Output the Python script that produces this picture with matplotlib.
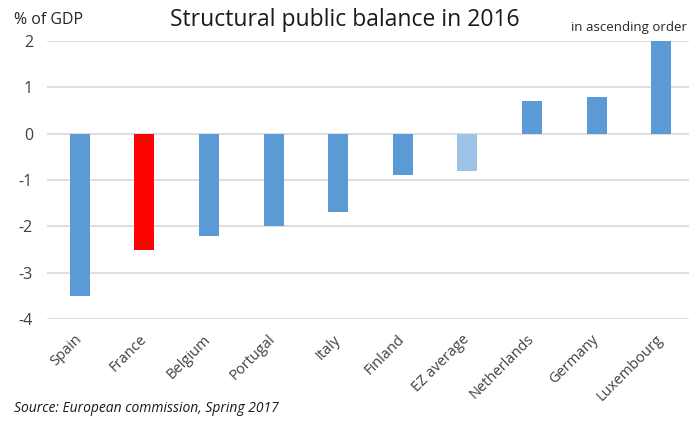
import numpy as np
import matplotlib
matplotlib.use('Agg')
import matplotlib.pyplot as plt

plt.rcParams['font.family'] = ['Open Sans', 'DejaVu Sans']

# data
countries = ['Spain', 'France', 'Belgium', 'Portugal', 'Italy', 'Finland',
             'EZ average', 'Netherlands', 'Germany', 'Luxembourg']
balance = [-3.5, -2.5, -2.2, -2.0, -1.7, -0.9, -0.8, 0.7, 0.8, 2.0]
colors = ['#5B9BD5', '#FF0000', '#5B9BD5', '#5B9BD5', '#5B9BD5', '#5B9BD5',
          '#9DC3E6', '#5B9BD5', '#5B9BD5', '#5B9BD5']
yticks = [-4, -3, -2, -1, 0, 1, 2]

fig = plt.figure(figsize=(6.89, 4.22), dpi=100)
ax = fig.add_axes([0.068, 0.244, 0.932, 0.659])

x = np.arange(len(countries))
ax.bar(x, balance, width=0.31, color=colors, zorder=3)

ax.set_ylim(-4, 2)
ax.set_xlim(-0.51, 9.43)
ax.set_yticks(yticks)
ax.set_yticklabels([str(v) for v in yticks], fontsize=11.5, color='#404040')
ax.set_xticks(x)
ax.set_xticklabels(countries, rotation=45, ha='right', va='center',
                   rotation_mode='anchor', fontsize=10.5, color='#404040')
ax.tick_params(axis='both', length=0)
ax.tick_params(axis='y', pad=10)
ax.tick_params(axis='x', pad=13)

ax.grid(axis='y', color='#D9D9D9', linewidth=1.2, zorder=0)
for s in ax.spines.values():
    s.set_visible(False)

fig.text(0.5, 0.952, 'Structural public balance in 2016', ha='center', va='center',
         fontsize=16.5, color='#1a1a1a')
fig.text(0.02, 0.952, '% of GDP', ha='left', va='center', fontsize=11.5, color='#262626')
fig.text(0.997, 0.936, 'in ascending order', ha='right', va='center', fontsize=9.5,
         color='#262626')
fig.text(0.02, 0.033, 'Source: European commission, Spring 2017', ha='left', va='center',
         fontsize=10, style='italic', color='#1a1a1a')

fig.savefig('out.png', dpi=100)
